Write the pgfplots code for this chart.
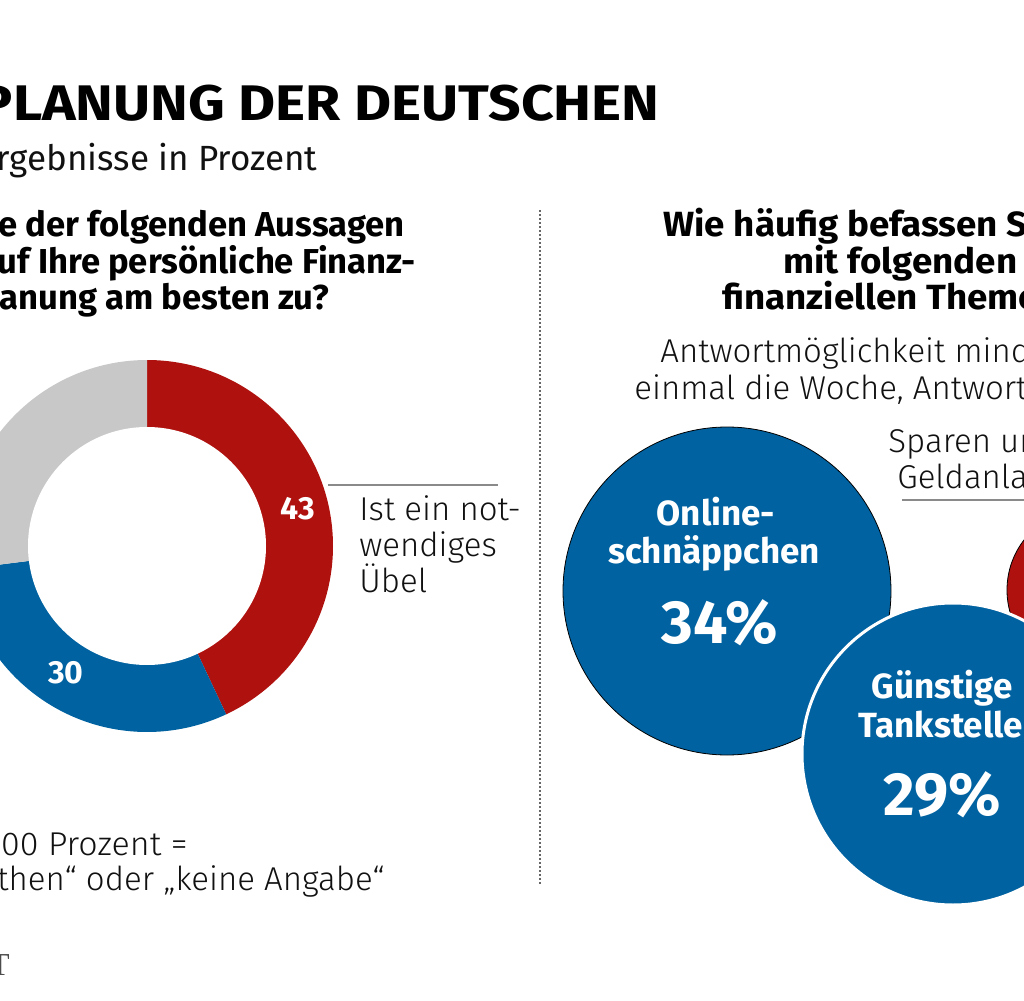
\documentclass[border=0pt]{standalone}
\usepackage{graphicx}
\usepackage{pgfplots}
\pgfplotsset{compat=1.18}
\usepackage{fontspec}
\setmainfont{Fira Sans}
\IfFontExistsTF{Fira Sans Light}{\newfontfamily\lightfont{Fira Sans Light}}{%
 \IfFontExistsTF{FiraSans-Light.otf}{\newfontfamily\lightfont{FiraSans-Light.otf}}{%
  \IfFontExistsTF{FiraSans-Light.ttf}{\newfontfamily\lightfont{FiraSans-Light.ttf}}{%
   \IfFontExistsTF{Fira Sans Book}{\newfontfamily\lightfont{Fira Sans Book}}{%
    \newfontfamily\lightfont{Fira Sans}}}}}
\newfontfamily\boldwide{Fira Sans Bold}
\newfontfamily\seriffont{Liberation Serif}
\definecolor{cred}{HTML}{AF120E}
\definecolor{cblue}{HTML}{0062A0}
\definecolor{cgray}{HTML}{C8C8C8}
\definecolor{ctext}{HTML}{111111}
\definecolor{cline}{HTML}{8A8A8A}
\newcommand\fs[2]{\fontsize{#1}{#2}\selectfont}
% donut values (percent)
\def\vRed{43}
\def\vBlue{30}
\def\vGray{27}
\begin{document}
\begin{tikzpicture}
\begin{axis}[scale only axis, width=512pt, height=500.5pt,
  xmin=0, xmax=1024, ymin=0, ymax=1001, y dir=reverse,
  hide axis, clip=true, clip marker paths=true]
% ---------------- donut ----------------
\pgfmathsetmacro{\aA}{90}
\pgfmathsetmacro{\aB}{90-\vRed*3.6}
\pgfmathsetmacro{\aC}{\aB-\vBlue*3.6}
\pgfmathsetmacro{\aD}{\aC-\vGray*3.6}
\fill[cred] (axis cs:147,546) -- ++(\aA:93pt) arc[start angle=\aA, end angle=\aB, radius=93pt] -- cycle;
\fill[cblue] (axis cs:147,546) -- ++(\aB:93pt) arc[start angle=\aB, end angle=\aC, radius=93pt] -- cycle;
\fill[cgray] (axis cs:147,546) -- ++(\aC:93pt) arc[start angle=\aC, end angle=\aD, radius=93pt] -- cycle;
\fill[white] (axis cs:147,546) circle[radius=59.5pt];
\node[anchor=base, text=white, font=\boldwide\fs{16}{18}] at (axis cs:298,519) {43};
\node[anchor=base, text=white, font=\boldwide\fs{16}{18}] at (axis cs:66,683) {30};
\draw[cline, line width=1pt] (axis cs:328,485) -- (axis cs:498,485);
\node[anchor=base west, text=ctext, font=\lightfont\fs{16.5}{18}, inner sep=0pt] at (axis cs:359,520) {Ist ein not-};
\node[anchor=base west, text=ctext, font=\lightfont\fs{16.5}{18}, inner sep=0pt] at (axis cs:359,556) {wendiges};
\node[anchor=base west, text=ctext, font=\lightfont\fs{16.5}{18}, inner sep=0pt] at (axis cs:359,592) {Übel};
% ---------------- bubbles ----------------
\addplot[only marks, mark=*, mark size=82pt, mark options={fill=cblue, draw=none}] coordinates {(727,591)};
% Sparen und Geldanlage bubble: centre at x=1089 (outside the crop), drawn shifted from the edge
\addplot[only marks, mark=*, mark size=41pt, mark options={fill=cred, draw=none, xshift=34.5pt}] coordinates {(1020,590)};
\addplot[only marks, mark=*, mark size=75.5pt, mark options={fill=cblue, draw=white, line width=1.5pt}] coordinates {(953,754)};
\node[anchor=base, text=white, font=\boldwide\fs{17.5}{20}] at (axis cs:716,525) {Online-};
\node[anchor=base, text=white, font=\boldwide\fs{17.5}{20}] at (axis cs:714,563) {schnäppchen};
\node[anchor=base, text=white, font=\boldwide\fs{30.5}{34}] at (axis cs:720,643) {34\%};
\node[anchor=base, text=white, font=\boldwide\fs{17.5}{20}] at (axis cs:942,698) {Günstige};
\node[anchor=base west, text=white, font=\boldwide\fs{17.5}{20}, inner sep=0pt] at (axis cs:858,737) {Tankstellen};
\node[anchor=base, text=white, font=\boldwide\fs{30.5}{34}] at (axis cs:942,815) {29\%};
% ---------------- texts ----------------
\node[anchor=base east, text=black, font=\boldwide\fs{25}{28}, inner sep=0pt] at (axis cs:660,121) {\scalebox{1.14}[1]{FINANZPLANUNG DER DEUTSCHEN}};
\node[anchor=base east, text=ctext, font=\fs{17.5}{20}, inner sep=0pt] at (axis cs:318,170) {Umfrageergebnisse in Prozent};
\node[anchor=base east, text=black, font=\boldwide\fs{17.3}{18}, inner sep=0pt] at (axis cs:405,236) {Welche der folgenden Aussagen};
\node[anchor=base east, text=black, font=\boldwide\fs{17.3}{18}, inner sep=0pt] at (axis cs:416,273) {trifft auf Ihre persönliche Finanz-};
\node[anchor=base east, text=black, font=\boldwide\fs{17.3}{18}, inner sep=0pt] at (axis cs:330,309) {planung am besten zu?};
\node[anchor=base west, text=black, font=\boldwide\fs{17.5}{18}, inner sep=0pt] at (axis cs:663,236) {\scalebox{1.05}[1]{Wie häufig befassen Sie sich}};
\node[anchor=base west, text=black, font=\boldwide\fs{17.5}{18}, inner sep=0pt] at (axis cs:783,273) {\scalebox{1.05}[1]{mit folgenden}};
\node[anchor=base west, text=black, font=\boldwide\fs{17.5}{18}, inner sep=0pt] at (axis cs:722,309) {\scalebox{1.05}[1]{finanziellen Themen?}};
\node[anchor=base west, text=ctext, font=\lightfont\fs{16.5}{18}, inner sep=0pt] at (axis cs:660,362) {Antwortmöglichkeit mindestens};
\node[anchor=base west, text=ctext, font=\lightfont\fs{16.5}{18}, inner sep=0pt] at (axis cs:634,399) {einmal die Woche, Antwort „ja“};
\node[anchor=base west, text=ctext, font=\lightfont\fs{16.5}{18}, inner sep=0pt] at (axis cs:888,452) {Sparen und};
\node[anchor=base west, text=ctext, font=\lightfont\fs{16.5}{18}, inner sep=0pt] at (axis cs:897,488) {Geldanlage};
\draw[cline, line width=1pt] (axis cs:902,500) -- (axis cs:1030,500);
\node[anchor=base east, text=ctext, font=\lightfont\fs{16.5}{18}, inner sep=0pt] at (axis cs:188,855) {\scalebox{1.03}[1]{Differenz zu 100 Prozent =}};
\node[anchor=base east, text=ctext, font=\lightfont\fs{16.5}{18}, inner sep=0pt] at (axis cs:385,890) {„Das sind Mythen“ oder „keine Angabe“};
\node[anchor=base, text=black!70, font=\seriffont\fs{16}{18}, inner sep=0pt] at (axis cs:0,975) {T};
\draw[black!60, line width=0.8pt, dash pattern=on 0.8pt off 1.2pt] (axis cs:540,210) -- (axis cs:540,885);
\end{axis}
\pgfresetboundingbox
\path[use as bounding box] (0,0) rectangle (512pt,500.5pt);
\end{tikzpicture}
\end{document}
